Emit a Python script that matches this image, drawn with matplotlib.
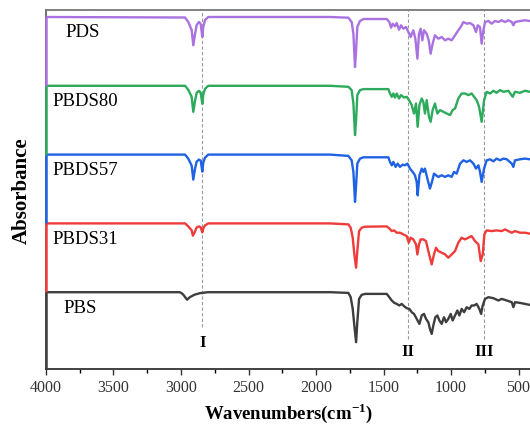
# FTIR spectra of PBS / PBDS copolymers / PDS, stacked

import numpy as np
import matplotlib.pyplot as plt

plt.rcParams['font.family'] = ['Liberation Serif', 'DejaVu Serif']
plt.rcParams['mathtext.fontset'] = 'custom'
plt.rcParams['mathtext.rm'] = 'Liberation Serif'
plt.rcParams['mathtext.bf'] = 'Liberation Serif:bold'

# sample names, top to bottom
samples = ['PDS', 'PBDS80', 'PBDS57', 'PBDS31', 'PBS']
colors = ['#AA72E0', '#2DAA5C', '#1F62E4', '#F03B3B', '#3E3E3E']

# wavenumber (cm-1) and band depth (a.u., downward)
pds_wn = [4000, 2970, 2946, 2921, 2909, 2896, 2884, 2867, 2854, 2842, 2835, 2822, 2798,
          1896, 1760, 1736, 1723, 1716, 1711, 1703, 1694, 1674, 1649, 1476, 1457, 1444,
          1432, 1415, 1402, 1385, 1370, 1353, 1333, 1316, 1299, 1279, 1264, 1249, 1237,
          1225, 1212, 1200, 1180, 1165, 1151, 1136, 1119, 1094, 1069, 1044, 1020, 995,
          970, 946, 928, 908, 884, 859, 834, 815, 802, 785, 773, 760, 748, 723, 699, 674,
          649, 625, 600, 575, 550, 538, 526, 489, 452, 415]
pds_depth = [0, 0.5, 5, 13, 28.3, 17, 8, 5, 7, 20, 10, 3, 0,
             0, 0.7, 5, 16.7, 36.7, 50, 33.3, 10, 4, 2, 2, 5, 10.7,
             6.7, 9.3, 6, 12.7, 8.3, 11.7, 10, 15, 20, 13.3, 21.7, 41.7, 16.7,
             11.7, 23.3, 13.3, 16.7, 23.3, 36.7, 26.7, 18.3, 21.7, 20, 23.3, 21.7, 23.3,
             18.3, 13.3, 10, 5, 6.7, 6, 8.3, 15, 8.3, 10, 26.7, 13.3, 5, 4, 6.7, 4,
             5, 3.3, 5, 3.3, 5, 8.3, 5, 4, 3.3, 4]

pbds80_wn = [4000, 2970, 2946, 2921, 2909, 2896, 2884, 2867, 2854, 2842, 2835, 2822, 2798,
             1896, 1760, 1736, 1723, 1711, 1703, 1694, 1674, 1649, 1464, 1452, 1439, 1427,
             1415, 1402, 1385, 1370, 1348, 1328, 1311, 1291, 1274, 1259, 1247, 1234, 1217,
             1205, 1193, 1180, 1163, 1151, 1136, 1119, 1101, 1081, 1057, 1032, 1007, 988,
             970, 946, 921, 896, 871, 847, 829, 810, 792, 773, 755, 736, 711, 686, 662, 637,
             612, 575, 543, 526, 489, 452, 415]
pbds80_depth = [0, 0, 4, 11, 26, 15, 7, 5, 7, 18, 9, 3, 0,
                0, 1, 4.3, 17.7, 49.3, 34.3, 9.3, 4.3, 3.3, 3.3, 7.7, 11, 7.7,
                11.7, 7.7, 12.7, 9.3, 11.7, 11, 14.3, 19.3, 27.7, 17.7, 41, 19.3, 12.7,
                16, 27.7, 14.3, 31, 36, 24.3, 17.7, 27.7, 24.3, 26, 27.7, 29.3, 24.3,
                22.7, 12.7, 7.7, 7.7, 9.3, 7.7, 11, 14.3, 21, 36, 14.3, 6, 7.7, 5, 7, 4.3,
                6, 5, 11, 6, 7, 5, 6]

pbds57_wn = [4000, 2970, 2946, 2921, 2909, 2896, 2884, 2867, 2854, 2842, 2835, 2822, 2798,
             1896, 1760, 1736, 1723, 1711, 1703, 1694, 1674, 1649, 1464, 1452, 1439, 1427,
             1410, 1395, 1378, 1358, 1341, 1323, 1304, 1284, 1267, 1254, 1247, 1234, 1217,
             1205, 1193, 1175, 1156, 1141, 1126, 1111, 1094, 1069, 1044, 1020, 995, 978,
             958, 933, 908, 884, 859, 834, 815, 797, 785, 773, 755, 736, 711, 686, 662, 637,
             612, 587, 550, 538, 526, 489, 452, 415]
pbds57_depth = [0, 0, 4, 11, 25, 14, 7, 5, 6, 17, 8, 3, 0,
                0, 1.3, 5.7, 17.3, 47.3, 30.7, 9, 4, 2.7, 2.7, 7.3, 10.7, 7.3,
                12.3, 9, 12.3, 10, 10.7, 9, 14, 17.3, 20.7, 27.3, 40.7, 20.7, 14,
                17.3, 14, 24, 34, 27.3, 19, 20.7, 22.3, 20.7, 22.3, 20.7, 22.3, 17.3,
                19, 9, 5.7, 7.3, 5.7, 9, 14, 10.7, 17.3, 27.3, 14, 5.7, 4.7, 6.7, 4, 5.7,
                4, 4.7, 9, 12.3, 5.7, 4.7, 4, 4.7]

pbds31_wn = [4000, 2970, 2946, 2921, 2912, 2896, 2884, 2867, 2854, 2842, 2835, 2822, 2798,
             1896, 1760, 1743, 1728, 1716, 1703, 1694, 1681, 1662, 1637, 1476, 1457, 1439,
             1422, 1402, 1378, 1353, 1328, 1313, 1299, 1279, 1259, 1249, 1237, 1225, 1205,
             1185, 1168, 1143, 1126, 1111, 1094, 1069, 1044, 1020, 995, 970, 946, 921, 896,
             871, 847, 822, 797, 780, 765, 753, 736, 699, 662, 625, 600, 575, 550, 526, 489,
             452, 415]
pbds31_depth = [0, 0, 3, 7, 12.3, 8, 4, 3, 4, 9, 5, 2, 0,
                0, 1, 4.3, 14.3, 31, 44.3, 27.7, 7.7, 4.3, 3.3, 3, 5, 7.7,
                7, 9.3, 9.3, 11, 12.7, 19.3, 14.3, 16, 21, 31, 21, 16, 16,
                17.7, 27.7, 41, 31, 24.3, 27.7, 29.3, 31, 34.3, 31, 27.7, 19.3, 14.3, 16,
                14.3, 12.7, 17.7, 21, 37.7, 31, 11, 7, 7.7, 7, 7.7, 6, 7.7, 9.3, 7.7, 9.3,
                9.3, 10.3]

pbs_wn = [4000, 3010, 2995, 2980, 2955, 2935, 2900, 2860, 2800,
          1896, 1760, 1743, 1728, 1716, 1703, 1694, 1681, 1662, 1637, 1476, 1457, 1439,
          1420, 1402, 1383, 1365, 1348, 1328, 1308, 1291, 1274, 1254, 1234, 1217, 1200,
          1185, 1168, 1156, 1143, 1131, 1116, 1101, 1086, 1069, 1052, 1037, 1020, 1002,
          988, 970, 953, 938, 921, 903, 884, 864, 847, 829, 810, 790, 777, 765, 748, 723,
          686, 649, 625, 587, 550, 538, 526, 489, 452, 415]
pbs_depth = [0, 0, 1, 3, 7.5, 5, 2.5, 1, 0,
             0, 0.7, 5, 16.7, 33.3, 50, 30, 6.7, 2.7, 1.7, 1.7, 5, 8.3,
             10.7, 11.7, 13.3, 11.7, 14, 16, 16.7, 20, 21.7, 26.7, 31.7, 23.3, 21.7,
             26.7, 30, 36.7, 41.7, 33.3, 25, 23.3, 28.3, 31.7, 25, 30, 26.7, 21.7,
             28.3, 23.3, 18.3, 23.3, 16.7, 20, 15, 16.7, 13.3, 13.3, 11.7, 16.7, 21.7, 13.3, 6.7, 5,
             6, 8.3, 6.7, 8.3, 10, 15, 10, 10.7, 11.7, 12.7]

spectra = [(pds_wn, pds_depth), (pbds80_wn, pbds80_depth), (pbds57_wn, pbds57_depth),
           (pbds31_wn, pbds31_depth), (pbs_wn, pbs_depth)]

# marked bands
band_pos = [2842, 1321, 755]
band_names = ['I', 'II', 'III']

step = 68.8  # vertical shift between traces
ybot, ytop = -352, 7

fig = plt.figure(figsize=(5.30, 4.27), dpi=100)
ax = fig.add_axes([46 / 530, 57 / 427, 486 / 530, 359 / 427])

for i, (wn, d) in enumerate(spectra):
    base = -i * step
    ax.plot(wn, base - np.array(d), color=colors[i], lw=1.7, zorder=3)
    # left edge of each trace drops to the next one
    low = -(i + 1) * step if i < len(spectra) - 1 else ybot
    ax.vlines(4000, low, base, color=colors[i], lw=1.8, zorder=4, clip_on=False)
    x0 = 3859 if samples[i] == 'PDS' else (3874 if samples[i] == 'PBS' else 3950)
    ax.text(x0, base - 15, samples[i], fontsize=13.5, va='center', ha='left', zorder=5)

# dashed guide lines with band numbers
ends = [-310, -322, -322]
label_y = [-325, -334, -334]
for p, n, e, ly in zip(band_pos, band_names, ends, label_y):
    ax.vlines(p, e, ytop, color='#9A9A9A', lw=0.8, linestyles=(0, (3, 2)), zorder=1)
    ax.text(p, ly, n, fontsize=12, fontweight='bold', ha='center', va='center')

ax.set_xlim(4000, 400)
ax.set_ylim(ybot, ytop)
ax.set_xticks([4000, 3500, 3000, 2500, 2000, 1500, 1000, 500])
ax.set_xticks(np.arange(3750, 400, -500), minor=True)
ax.set_yticks([])
ax.tick_params(axis='x', direction='out', length=4, width=1, labelsize=11.5,
               colors='#333333', pad=3)
ax.tick_params(axis='x', which='minor', direction='out', length=3, width=1)
ax.spines['right'].set_visible(False)
ax.spines['left'].set_color('#555555')
ax.spines['left'].set_linewidth(1.2)
ax.spines['bottom'].set_color('#333333')
ax.spines['bottom'].set_linewidth(1.3)
ax.spines['top'].set_color('#777777')
ax.spines['top'].set_linewidth(1.3)

ax.set_xlabel('Wavenumbers(cm$^{\\mathbf{-1}}$)', fontsize=13.5, fontweight='bold', labelpad=4)
ax.set_ylabel('Absorbance', fontsize=15, fontweight='bold', labelpad=10)

plt.savefig('out.png', dpi=100)
